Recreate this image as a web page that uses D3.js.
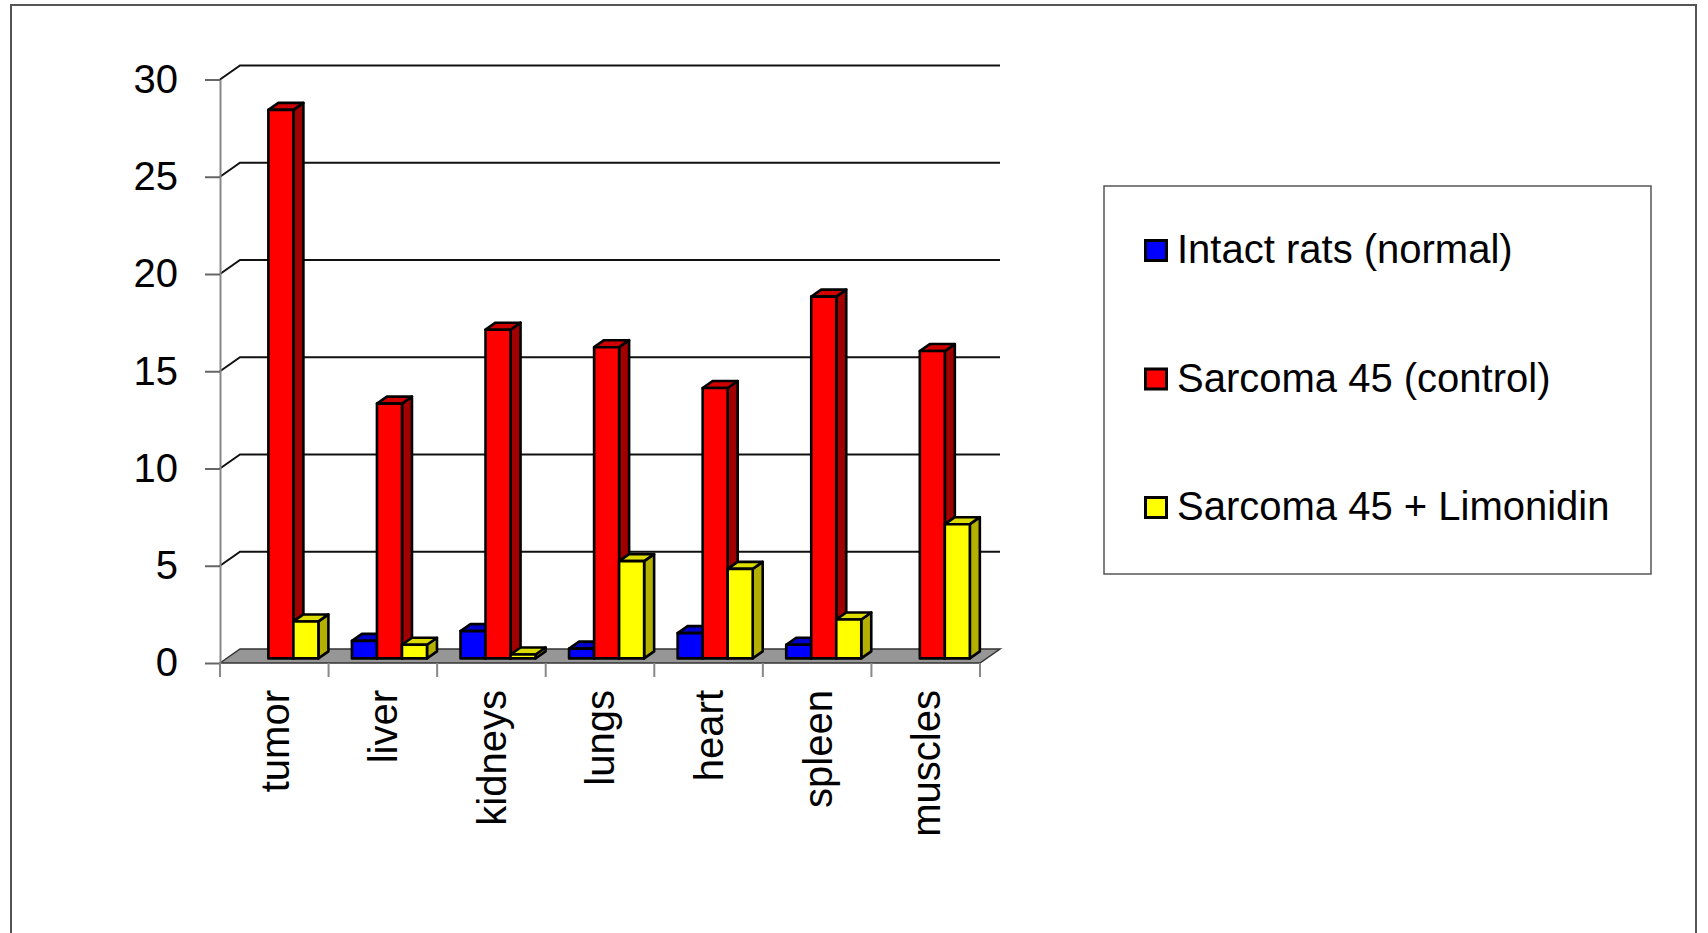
<!DOCTYPE html>
<html>
<head>
<meta charset="utf-8">
<script src="https://cdn.jsdelivr.net/npm/d3@7"></script>
<style>
  body { margin: 0; background: #fff; }
  text { font-family: "Liberation Sans", Arial, sans-serif; fill: #000; }
</style>
</head>
<body>
<div id="chart"></div>
<script>
// Data
const categories = ["tumor", "liver", "kidneys", "lungs", "heart", "spleen", "muscles"];
const intact     = [0,    0.9,  1.4,  0.5,  1.3,  0.7,  0];
const control    = [28.2, 13.1, 16.9, 16.0, 13.9, 18.6, 15.8];
const limonidin  = [1.9,  0.7,  0.2,  5.0,  4.6,  2.0,  6.9];
const seriesNames = ["Intact rats (normal)", "Sarcoma 45 (control)", "Sarcoma 45 + Limonidin"];
const yTicks = [0, 5, 10, 15, 20, 25, 30];

// front / top / side shades for each series
const COLORS = [
    { front: "#0000ff", top: "#0000cc", side: "#000099" },
    { front: "#ff0000", top: "#d00000", side: "#a00000" },
    { front: "#ffff00", top: "#dcdc00", side: "#b4b000" }
];

const W = 1708, H = 933;
const DX = 20, DY = -14;      // depth vector from the front to the back wall
const F0 = 0.33, F1 = 0.83;   // depth of the bars' front and back faces

const svg = d3.select("#chart").append("svg")
    .attr("width", W)
    .attr("height", H);

// outer frame
svg.append("rect")
    .attr("x", 11).attr("y", 5)
    .attr("width", 1685).attr("height", 960)
    .attr("fill", "none")
    .attr("stroke", "#555")
    .attr("stroke-width", 2);

const x0 = d3.scaleBand().domain(categories).range([220, 980]);
const x1 = d3.scaleBand().domain(d3.range(seriesNames.length))
    .range([0, x0.bandwidth()])
    .paddingOuter(0.67);
const y = d3.scaleLinear().domain([0, 30]).range([663, 79.5]);

// project (x, value, depth) onto the page
const pt = (x, v, d) => [x + d * DX, y(v) + d * DY];
const pts = arr => arr.map(p => p.join(",")).join(" ");

const xLeft = x0.range()[0], xRight = x0.range()[1];

// Floor
svg.append("polygon")
    .attr("points", pts([pt(xLeft, 0, 0), pt(xLeft, 0, 1), pt(xRight, 0, 1), pt(xRight, 0, 0)]))
    .attr("fill", "#969696")
    .attr("stroke", "#333")
    .attr("stroke-width", 1.5);

// Gridlines on the back wall
yTicks.filter(t => t > 0).forEach(t => {
    svg.append("polyline")
        .attr("points", pts([pt(xLeft, t, 0), pt(xLeft, t, 1), pt(xRight, t, 1)]))
        .attr("fill", "none")
        .attr("stroke", "#111")
        .attr("stroke-width", 2);
});

// Y axis
const yAxis = svg.append("g")
    .attr("transform", "translate(" + xLeft + ",0)")
    .call(d3.axisLeft(y).tickValues(yTicks).tickSize(15).tickSizeOuter(0).tickPadding(27));
yAxis.select(".domain").attr("stroke", "#888").attr("stroke-width", 2);
yAxis.selectAll(".tick line").attr("stroke", "#666").attr("stroke-width", 2);
yAxis.selectAll(".tick text")
    .attr("font-size", "40px")
    .attr("font-family", "Liberation Sans, Arial, sans-serif")
    .attr("fill", "#000");

// Category ticks at band boundaries
const bounds = categories.map(c => x0(c)).concat([xRight]);
svg.append("g").selectAll("line")
    .data(bounds)
    .join("line")
    .attr("x1", d => d).attr("x2", d => d)
    .attr("y1", y(0)).attr("y2", y(0) + 14)
    .attr("stroke", "#888")
    .attr("stroke-width", 2);

// Category labels
svg.append("g").selectAll("text")
    .data(categories)
    .join("text")
    .attr("transform", d => "translate(" + (x0(d) + x0.bandwidth() / 2) + "," + (y(0) + 27) + ") rotate(-90)")
    .attr("text-anchor", "end")
    .attr("dy", "0.36em")
    .attr("font-size", "40px")
    .text(d => d);

// Bars
const series = [intact, control, limonidin];
const bars = svg.append("g")
    .attr("stroke", "#000")
    .attr("stroke-width", 2.6)
    .attr("stroke-linejoin", "round");

categories.forEach((c, i) => {
    series.forEach((vals, s) => {
        const v = vals[i];
        if (!v) return;
        const xl = x0(c) + x1(s);
        const xr = xl + x1.bandwidth();
        const col = COLORS[s];
        bars.append("polygon")
            .attr("points", pts([pt(xr, 0, F0), pt(xr, v, F0), pt(xr, v, F1), pt(xr, 0, F1)]))
            .attr("fill", col.side);
        bars.append("polygon")
            .attr("points", pts([pt(xl, v, F0), pt(xl, v, F1), pt(xr, v, F1), pt(xr, v, F0)]))
            .attr("fill", col.top);
        bars.append("polygon")
            .attr("points", pts([pt(xl, 0, F0), pt(xl, v, F0), pt(xr, v, F0), pt(xr, 0, F0)]))
            .attr("fill", col.front);
    });
});

// Legend
const legend = svg.append("g");
legend.append("rect")
    .attr("x", 1104).attr("y", 186)
    .attr("width", 547).attr("height", 388)
    .attr("fill", "#fff")
    .attr("stroke", "#555")
    .attr("stroke-width", 1.5);

const legendY = d3.scaleLinear().domain([0, 2]).range([263, 520]);
seriesNames.forEach((name, i) => {
    const by = legendY(i);
    legend.append("rect")
        .attr("x", 1145.5).attr("y", by - 22.5)
        .attr("width", 21).attr("height", 20)
        .attr("fill", COLORS[i].front)
        .attr("stroke", "#000")
        .attr("stroke-width", 3);
    legend.append("text")
        .attr("x", 1177).attr("y", by)
        .attr("font-size", "40px")
        .text(name);
});
</script>
</body>
</html>
